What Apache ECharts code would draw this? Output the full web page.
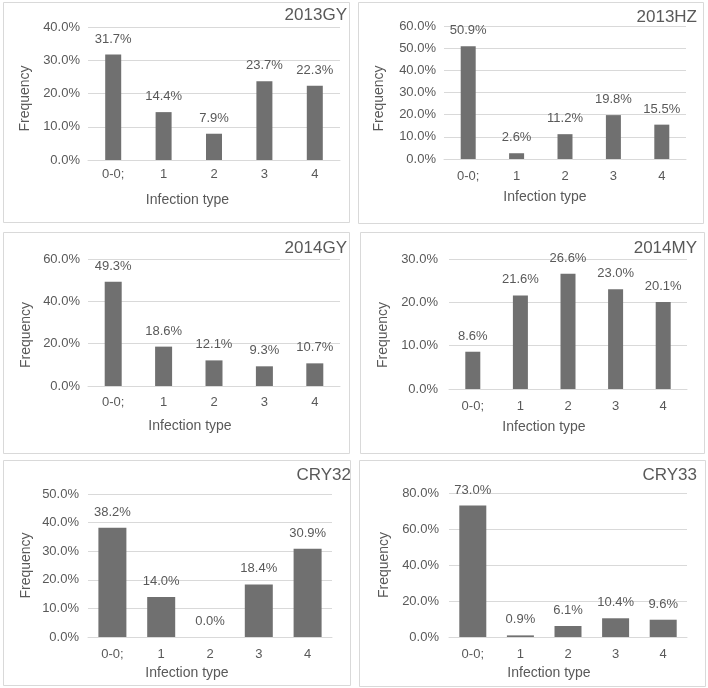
<!DOCTYPE html>
<html>
<head>
<meta charset="utf-8">
<script src="https://cdn.jsdelivr.net/npm/echarts@6/dist/echarts.min.js"></script>
<style>
html,body{margin:0;padding:0;background:#fff;}
#main{width:708px;height:688px;}
</style>
</head>
<body>
<div id="main"></div>
<script>
// ---- data ----
const categories = ['0-0;', '1', '2', '3', '4'];
const panelTitles = ['2013GY', '2013HZ', '2014GY', '2014MY', 'CRY32', 'CRY33'];
const freq2013GY = [31.7, 14.4, 7.9, 23.7, 22.3];
const freq2013HZ = [50.9, 2.6, 11.2, 19.8, 15.5];
const freq2014GY = [49.3, 18.6, 12.1, 9.3, 10.7];
const freq2014MY = [8.6, 21.6, 26.6, 23.0, 20.1];
const freqCRY32 = [38.2, 14.0, 0.0, 18.4, 30.9];
const freqCRY33 = [73.0, 0.9, 6.1, 10.4, 9.6];
const yMaxes = [40, 60, 60, 30, 50, 80];
const yIntervals = [10, 10, 20, 10, 10, 20];
const xAxisName = 'Infection type';
const yAxisName = 'Frequency';

const seriesValues = [freq2013GY, freq2013HZ, freq2014GY, freq2014MY, freqCRY32, freqCRY33];

// ---- layout (pixels) ----
const layout = [
  {grid:[88, 27, 252, 133], box:[3, 2, 346, 220],  title:[361, 7],   bw:16, xm:8,  ym:8,  xg:33, xpad:53, yg:56, ypad:10},
  {grid:[444, 26, 242, 133], box:[358, 2, 345, 221], title:[11, 9],   bw:15, xm:11, ym:8,  xg:31, xpad:40, yg:58, ypad:12},
  {grid:[88, 259, 252, 127], box:[3, 232, 346, 221], title:[361, 240], bw:17, xm:10, ym:8,  xg:33, xpad:48, yg:55, ypad:25},
  {grid:[449, 259, 238, 130], box:[360, 232, 344, 221], title:[11, 240], bw:15, xm:11, ym:11, xg:31, xpad:48, yg:59, ypad:22},
  {grid:[88, 494, 244, 143], box:[3, 460, 347, 225], title:[357, 467], bw:28, xm:11, ym:9,  xg:29, xpad:46, yg:55, ypad:0},
  {grid:[449, 493, 238, 144], box:[359, 460, 346, 226], title:[11, 467], bw:27, xm:11, ym:10, xg:29, xpad:38, yg:58, ypad:0}
];

const textColor = '#595959';
const fontFamily = '"Liberation Sans", Arial, sans-serif';

const option = {
  backgroundColor: '#ffffff',
  animation: false,
  textStyle: {fontFamily: fontFamily},
  title: [], grid: [], xAxis: [], yAxis: [], series: [],
  graphic: []
};

layout.forEach((L, i) => {
  option.graphic.push({
    type: 'rect', silent: true, z: -1,
    shape: {x: L.box[0] + 0.5, y: L.box[1] + 0.5, width: L.box[2], height: L.box[3]},
    style: {fill: '#ffffff', stroke: '#d9d9d9', lineWidth: 1}
  });
  option.title.push({
    text: panelTitles[i], right: L.title[0], top: L.title[1], padding: 0,
    textStyle: {fontSize: 17, fontWeight: 'normal', color: textColor, fontFamily: fontFamily}
  });
  option.grid.push({
    left: L.grid[0], top: L.grid[1], width: L.grid[2], height: L.grid[3],
    containLabel: false, outerBoundsMode: 'none'
  });
  option.xAxis.push({
    type: 'category', gridIndex: i, data: categories,
    axisLine: {show: true, lineStyle: {color: '#d9d9d9', width: 1}},
    axisTick: {show: false},
    axisLabel: {color: textColor, fontSize: 13, margin: L.xm, fontFamily: fontFamily},
    name: xAxisName, nameLocation: 'middle', nameGap: L.xg,
    nameTextStyle: {color: textColor, fontSize: 14, fontFamily: fontFamily, padding: [0, L.xpad, 0, 0]}
  });
  option.yAxis.push({
    type: 'value', gridIndex: i, min: 0, max: yMaxes[i], interval: yIntervals[i],
    axisLine: {show: false}, axisTick: {show: false},
    splitLine: {show: true, lineStyle: {color: '#d9d9d9', width: 1}},
    axisLabel: {color: textColor, fontSize: 13, margin: L.ym, fontFamily: fontFamily,
      formatter: v => v.toFixed(1) + '%'},
    name: yAxisName, nameLocation: 'middle', nameGap: L.yg,
    nameTextStyle: {color: textColor, fontSize: 14, fontFamily: fontFamily, padding: [0, L.ypad, 0, 0]}
  });
  option.series.push({
    type: 'bar', xAxisIndex: i, yAxisIndex: i, data: seriesValues[i],
    barWidth: L.bw,
    itemStyle: {color: '#707070'},
    label: {show: true, position: 'top', distance: 9, color: textColor, fontSize: 13,
      fontFamily: fontFamily, formatter: p => p.value.toFixed(1) + '%'}
  });
});

const chart = echarts.init(document.getElementById('main'), null, {renderer: 'canvas'});
chart.setOption(option);
</script>
</body>
</html>
